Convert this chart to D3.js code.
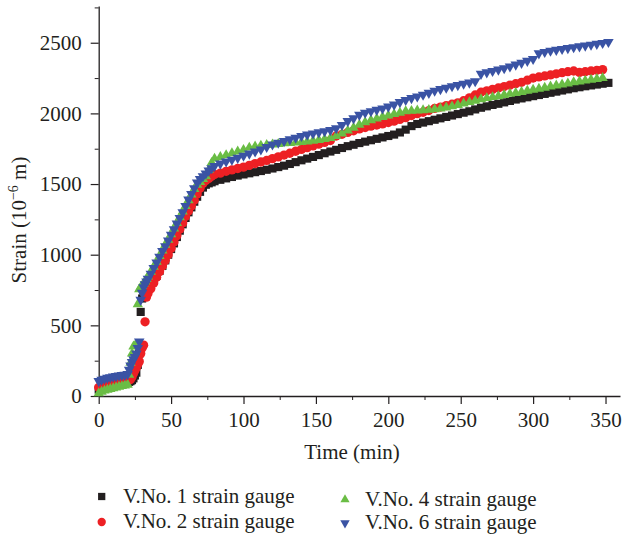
<!DOCTYPE html>
<html>
<head>
<meta charset="utf-8">
<script src="https://cdn.jsdelivr.net/npm/d3@7"></script>
<style>
  body { margin: 0; background: #fff; }
  svg { display: block; }
  text { font-family: "Liberation Serif", "DejaVu Serif", serif; fill: #231f20; }
</style>
</head>
<body>
<div id="chart"></div>
<script>
// time (min)
const times = [
  0, 2, 4, 6, 8, 10, 12, 14, 16, 18, 20,
  21, 22, 23, 24, 25, 26, 27, 28, 29, 30, 31, 32, 33, 34,
  36, 38, 40, 42, 44, 46, 48, 50, 52, 54, 56, 58, 60, 62, 64, 66, 68, 70, 72, 74, 76, 78, 80,
  84, 88, 92, 96, 100, 104, 108, 112, 116, 120, 124, 128, 132, 136, 140, 144, 148, 152, 156, 160,
  164, 168, 172, 176, 180, 184, 188, 192, 196, 200, 204, 208, 212, 216, 220, 224, 228, 232, 236, 240,
  244, 248, 252, 256, 260, 264, 268, 272, 276, 280, 284, 288, 292, 296, 300, 304, 308, 312, 316, 320,
  324, 328, 332, 336, 340, 344, 348, 352
];

// strain (10^-6 m)
const gauge1 = [
  45, 55, 62, 68, 72, 76, 80, 84, 88, 92, 96,
  100, 105, 112, 125, 145, 165, 220, 300, 595, 690, 705, 720, 735, 750,
  780, 815, 850, 885, 920, 960, 1000, 1040, 1080, 1125, 1170, 1215, 1260, 1300, 1335, 1375, 1410, 1445, 1475, 1495, 1505, 1512, 1520,
  1530, 1540, 1550, 1560, 1568, 1576, 1584, 1592, 1601, 1610, 1620, 1630, 1642, 1655, 1668, 1680, 1692, 1705, 1718, 1730,
  1742, 1755, 1768, 1778, 1790, 1800, 1810, 1820, 1830, 1840, 1850, 1865, 1885, 1910, 1925, 1935, 1945, 1955, 1965, 1975,
  1985, 1995, 2005, 2015, 2028, 2040, 2050, 2060, 2068, 2078, 2088, 2098, 2106, 2114, 2122, 2130, 2138, 2146, 2154, 2162,
  2170, 2178, 2185, 2192, 2198, 2204, 2210, 2216
];
const gauge2 = [
  60, 70, 76, 80, 84, 88, 92, 96, 100, 104, 108,
  112, 118, 135, 160, 180, 200, 225, 245, 300, 340, 360, 525, 700, 725,
  760, 800, 840, 880, 920, 960, 1000, 1045, 1090, 1135, 1180, 1225, 1270, 1310, 1345, 1385, 1430, 1470, 1505, 1525, 1540, 1555, 1568,
  1577, 1590, 1600, 1610, 1620, 1632, 1645, 1656, 1667, 1680, 1692, 1705, 1718, 1732, 1745, 1758, 1770, 1782, 1795, 1808,
  1840, 1852, 1865, 1877, 1890, 1900, 1910, 1918, 1926, 1935, 1945, 1957, 1970, 1985, 1998, 2008, 2020, 2035, 2045, 2055,
  2065, 2075, 2090, 2110, 2130, 2150, 2160, 2170, 2180, 2190, 2200, 2210, 2220, 2235, 2250, 2258, 2265, 2272, 2280, 2288,
  2295, 2300, 2290, 2295, 2300, 2305, 2310, null
];
const gauge4 = [
  20, 30, 38, 44, 50, 55, 60, 65, 70, 75, 80,
  150, 235, 300, 350, 355, 360, 650, 755, 770, 780, 795, 810, 828, 845,
  880, 915, 950, 990, 1030, 1070, 1105, 1145, 1185, 1225, 1265, 1305, 1345, 1385, 1425, 1465, 1495, 1515, 1535, 1555, 1600, 1650, 1680,
  1692, 1705, 1718, 1730, 1742, 1758, 1766, 1772, 1776, 1780, 1784, 1788, 1791, 1794, 1797, 1801, 1806, 1812, 1818, 1826,
  1840, 1858, 1878, 1898, 1920, 1937, 1952, 1963, 1974, 1985, 1995, 2005, 2015, 2018, 2020, 2022, 2025, 2030, 2035, 2042,
  2050, 2060, 2070, 2080, 2090, 2100, 2108, 2115, 2122, 2130, 2138, 2145, 2152, 2160, 2168, 2175, 2182, 2190, 2198, 2205,
  2212, 2220, 2226, 2232, 2238, 2244, 2250, null
];
const gauge6 = [
  105, 115, 122, 128, 133, 137, 141, 145, 148, 150, 155,
  185, 215, 240, 260, 275, 300, 340, 385, 680, 730, 770, 790, 810, 830,
  865, 905, 945, 985, 1025, 1060, 1100, 1140, 1180, 1220, 1260, 1300, 1345, 1390, 1430, 1470, 1510, 1535, 1555, 1575, 1595, 1612, 1628,
  1645, 1660, 1672, 1685, 1700, 1715, 1730, 1745, 1762, 1780, 1792, 1804, 1816, 1828, 1840, 1850, 1858, 1866, 1874, 1882,
  1895, 1918, 1945, 1965, 1990, 2005, 2015, 2025, 2035, 2048, 2062, 2080, 2095, 2108, 2120, 2132, 2145, 2160, 2172, 2182,
  2192, 2200, 2210, 2218, 2228, 2280, 2290, 2300, 2310, 2320, 2332, 2345, 2358, 2372, 2385, 2425, 2435, 2443, 2450, 2456,
  2462, 2468, 2474, 2480, 2486, 2492, 2498, 2505
];

const seriesNames = ["V.No. 1 strain gauge", "V.No. 2 strain gauge", "V.No. 4 strain gauge", "V.No. 6 strain gauge"];
const xTicks = [0, 50, 100, 150, 200, 250, 300, 350];
const yTicks = [0, 500, 1000, 1500, 2000, 2500];

const W = 622, H = 539;
const plotL = 98.7, plotR = 620, plotT = 6, plotB = 396;
const ink = "#231f20";
const fs = "21px";

const series = [
  {name: seriesNames[0], values: gauge1, color: "#231f20", shape: d3.symbolSquare, size: 66, rot: 0},
  {name: seriesNames[1], values: gauge2, color: "#ed2024", shape: d3.symbolCircle, size: 68, rot: 0},
  {name: seriesNames[2], values: gauge4, color: "#6abd45", shape: d3.symbolTriangle, size: 46, rot: 0},
  {name: seriesNames[3], values: gauge6, color: "#3a53a4", shape: d3.symbolTriangle, size: 48, rot: 180}
];

let svg = d3.select("#chart").append("svg")
  .attr("width", W)
  .attr("height", H);

let x = d3.scaleLinear().domain([0, 360]).range([plotL, plotR]);
let y = d3.scaleLinear().domain([0, 2760]).range([plotB, plotT]);

// minor ticks
svg.append("g")
  .attr("transform", `translate(0,${plotB})`)
  .call(d3.axisBottom(x).tickValues(d3.range(25, 360, 50)).tickSize(4).tickFormat(""))
  .call(g => g.select(".domain").remove())
  .selectAll("line").attr("stroke", ink);
svg.append("g")
  .attr("transform", `translate(${plotL},0)`)
  .call(d3.axisLeft(y).tickValues(d3.range(250, 2760, 500)).tickSize(4).tickFormat(""))
  .call(g => g.select(".domain").remove())
  .selectAll("line").attr("stroke", ink);

// main axes
let xAxis = svg.append("g")
  .attr("transform", `translate(0,${plotB})`)
  .call(d3.axisBottom(x).tickValues(xTicks).tickFormat(d3.format("d")).tickSize(8).tickSizeOuter(0).tickPadding(8));
let yAxis = svg.append("g")
  .attr("transform", `translate(${plotL},0)`)
  .call(d3.axisLeft(y).tickValues(yTicks).tickFormat(d3.format("d")).tickSize(8).tickSizeOuter(0).tickPadding(9));

[xAxis, yAxis].forEach(g => {
  g.select(".domain").attr("stroke", ink).attr("stroke-width", 1.3);
  g.selectAll(".tick line").attr("stroke", ink).attr("stroke-width", 1.2);
  g.selectAll(".tick text")
    .attr("fill", ink)
    .style("font-family", '"Liberation Serif", serif')
    .style("font-size", fs);
});

// axis titles
svg.append("text")
  .attr("x", 352)
  .attr("y", 459)
  .attr("text-anchor", "middle")
  .style("font-size", fs)
  .text("Time (min)");

let ylab = svg.append("text")
  .attr("transform", "translate(26,220) rotate(-90)")
  .attr("text-anchor", "middle")
  .style("font-size", fs);
ylab.append("tspan").text("Strain (10");
ylab.append("tspan").attr("dy", -8).style("font-size", "14px").text("\u22126");
ylab.append("tspan").attr("dy", 8).text(" m)");

// markers
series.forEach(s => {
  let pts = times.map((t, i) => ({t: t, v: s.values[i]})).filter(d => d.v != null);
  svg.append("g")
    .selectAll("path")
    .data(pts)
    .enter().append("path")
    .attr("d", d3.symbol().type(s.shape).size(s.size))
    .attr("transform", d => `translate(${x(d.t)},${y(d.v)}) rotate(${s.rot})`)
    .attr("fill", s.color);
});

// legend
const legendPos = [
  {mx: 101.7, my: 496.5, tx: 123, ty: 503},
  {mx: 101.7, my: 522, tx: 123, ty: 528},
  {mx: 345, my: 499.5, tx: 365, ty: 506},
  {mx: 345, my: 523, tx: 365, ty: 529}
];
series.forEach((s, i) => {
  let p = legendPos[i];
  svg.append("path")
    .attr("d", d3.symbol().type(s.shape).size(s.size * 0.8))
    .attr("transform", `translate(${p.mx},${p.my}) rotate(${s.rot})`)
    .attr("fill", s.color);
  svg.append("text")
    .attr("x", p.tx)
    .attr("y", p.ty)
    .style("font-size", fs)
    .text(s.name);
});
</script>
</body>
</html>
